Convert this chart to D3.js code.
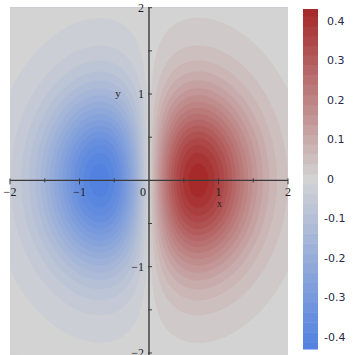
<!DOCTYPE html>
<html><head><meta charset="utf-8">
<script src="https://cdn.jsdelivr.net/npm/d3@7"></script>
<style>html,body{margin:0;padding:0;background:#fff;}svg{display:block;}</style>
</head><body>
<script>
const gridStep = 0.05;
const xProfile = [-0.0366,-0.0435,-0.0514,-0.0604,-0.0705,-0.0818,-0.0945,-0.1084,-0.1237,-0.1403,-0.1581,-0.1771,-0.1972,-0.2182,-0.2399,-0.2620,-0.2843,-0.3064,-0.3280,-0.3486,-0.3679,-0.3853,-0.4004,-0.4127,-0.4218,-0.4273,-0.4288,-0.4260,-0.4186,-0.4064,-0.3894,-0.3675,-0.3409,-0.3096,-0.2742,-0.2349,-0.1922,-0.1467,-0.0990,-0.0499,0,
0.0499,0.0990,0.1467,0.1922,0.2349,0.2742,0.3096,0.3409,0.3675,0.3894,0.4064,0.4186,0.4260,0.4288,0.4273,0.4218,0.4127,0.4004,0.3853,0.3679,0.3486,0.3280,0.3064,0.2843,0.2620,0.2399,0.2182,0.1972,0.1771,0.1581,0.1403,0.1237,0.1084,0.0945,0.0818,0.0705,0.0604,0.0514,0.0435,0.0366];
const yProfile = [0.0183,0.0223,0.0271,0.0326,0.0392,0.0468,0.0556,0.0657,0.0773,0.0905,0.1054,0.1222,0.1409,0.1616,0.1845,0.2096,0.2369,0.2665,0.2982,0.3320,0.3679,0.4056,0.4449,0.4855,0.5273,0.5698,0.6126,0.6554,0.6977,0.7390,0.7788,0.8167,0.8521,0.8847,0.9139,0.9394,0.9608,0.9778,0.9901,0.9975,1.0000,
0.9975,0.9901,0.9778,0.9608,0.9394,0.9139,0.8847,0.8521,0.8167,0.7788,0.7390,0.6977,0.6554,0.6126,0.5698,0.5273,0.4855,0.4449,0.4056,0.3679,0.3320,0.2982,0.2665,0.2369,0.2096,0.1845,0.1616,0.1409,0.1222,0.1054,0.0905,0.0773,0.0657,0.0556,0.0468,0.0392,0.0326,0.0271,0.0223,0.0183];
const contourLevels = [-0.4125,-0.3875,-0.3625,-0.3375,-0.3125,-0.2875,-0.2625,-0.2375,-0.2125,-0.1875,-0.1625,-0.1375,-0.1125,-0.0875,-0.0625,-0.0375,-0.0125,
0.0125,0.0375,0.0625,0.0875,0.1125,0.1375,0.1625,0.1875,0.2125,0.2375,0.2625,0.2875,0.3125,0.3375,0.3625,0.3875,0.4125];
const valueRange = [-0.43, 0.43];
const xTicks = [-2,-1,0,1,2];
const yTicks = [-2,-1,1,2];
const minorTicks = [-2,-1.5,-1,-0.5,0.5,1,1.5,2];
const barTicks = [0.4,0.3,0.2,0.1,0,-0.1,-0.2,-0.3,-0.4];
const barTickLabels = ["0.4","0.3","0.2","0.1","0","-0.1","-0.2","-0.3","-0.4"];

const W = 355, H = 355;
const svg = d3.select("body").append("svg").attr("width", W).attr("height", H);
const sx = d3.scaleLinear().domain([-2, 2]).range([10, 288]);
const sy = d3.scaleLinear().domain([-2, 2]).range([353, 7.7]);

const grey = "#d3d3d3", red = "#a52828", blue = "#5080e0";
function color(v) {
  const t = Math.min(1, Math.abs(v) / 0.43);
  return v >= 0 ? d3.interpolateRgb(grey, red)(t) : d3.interpolateRgb(grey, blue)(t);
}

const nx = xProfile.length, ny = yProfile.length;
const values = new Array(nx * ny);
for (let j = 0; j < ny; j++) for (let i = 0; i < nx; i++) values[j * nx + i] = xProfile[i] * yProfile[j];

const contours = d3.contours().size([nx, ny]).thresholds(contourLevels)(values);
const proj = d3.geoTransform({
  point(x, y) { this.stream.point(sx(-2 + (x - 0.5) * gridStep), sy(2 - (y - 0.5) * gridStep)); }
});
const path = d3.geoPath(proj);

svg.append("clipPath").attr("id", "clip").append("rect")
  .attr("x", sx(-2)).attr("y", 7.5).attr("width", sx(2) - sx(-2)).attr("height", H - 7.5);
const plot = svg.append("g").attr("clip-path", "url(#clip)");
const step = contourLevels[1] - contourLevels[0];
plot.append("rect").attr("x", 0).attr("y", 0).attr("width", W).attr("height", H)
  .attr("fill", color(contourLevels[0] - step / 2));
plot.selectAll("path").data(contours).join("path")
  .attr("d", path)
  .attr("fill", d => color(d.value + step / 2))
  .attr("stroke", d => color(d.value + step / 2))
  .attr("stroke-width", 0.4);

// axes
const axisColor = "#3a3a3a";
const ax = svg.append("g").attr("stroke", axisColor).attr("stroke-width", 1.4);
ax.append("line").attr("x1", sx(-2)).attr("x2", sx(2)).attr("y1", sy(0)).attr("y2", sy(0));
ax.append("line").attr("x1", sx(0)).attr("x2", sx(0)).attr("y1", sy(2)).attr("y2", H);
const tk = svg.append("g").attr("stroke", axisColor).attr("stroke-width", 1);
minorTicks.forEach(v => {
  tk.append("line").attr("x1", sx(v)).attr("x2", sx(v)).attr("y1", sy(0) - 2).attr("y2", sy(0) + (Number.isInteger(v) ? 4 : 2));
  tk.append("line").attr("y1", sy(v)).attr("y2", sy(v)).attr("x1", sx(0) - 1).attr("x2", sx(0) + 3);
});

const lab = svg.append("g").attr("font-family", "'Liberation Serif', 'DejaVu Serif', serif").attr("font-size", 12).attr("fill", "#222");
const fmt = v => (v < 0 ? "\u2212" : "") + Math.abs(v);
xTicks.forEach(v => {
  lab.append("text").attr("x", v === 0 ? sx(0) - 6 : sx(v)).attr("y", sy(0) + 16)
    .attr("text-anchor", "middle").text(fmt(v));
});
yTicks.forEach(v => {
  lab.append("text").attr("x", sx(0) - 5).attr("y", sy(v)).attr("dy", "0.35em")
    .attr("text-anchor", "end").text(fmt(v));
});
lab.append("text").attr("x", sx(1) + 1).attr("y", sy(0) + 27).attr("text-anchor", "middle").attr("font-size", 10).text("x");
lab.append("text").attr("x", 118).attr("y", sy(1)).attr("dy", "0.3em").attr("text-anchor", "middle").attr("font-size", 11).text("y");

// colour bar
const cb = d3.scaleLinear().domain(valueRange).range([349, 9]);
const edges = [valueRange[0], ...contourLevels, valueRange[1]];
const bar = svg.append("g");
for (let k = 0; k < edges.length - 1; k++) {
  const a = edges[k], b = edges[k + 1];
  bar.append("rect").attr("x", 303).attr("width", 15)
    .attr("y", cb(b)).attr("height", cb(a) - cb(b) + 0.5)
    .attr("fill", color((a + b) / 2));
}
const bl = svg.append("g").attr("font-family", "'DejaVu Sans', sans-serif").attr("font-size", 11).attr("fill", "#2a2a48");
barTicks.forEach((v, k) => {
  bl.append("text").attr("x", v < 0 ? 324 : 327).attr("y", cb(v)).attr("dy", "0.35em").text(barTickLabels[k]);
});
</script>
</body></html>
